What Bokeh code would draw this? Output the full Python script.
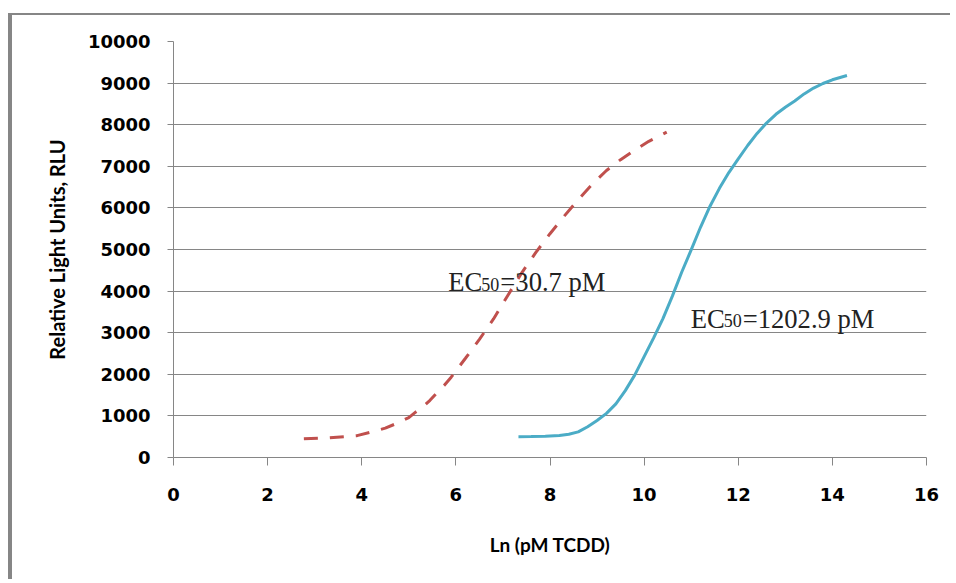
from bokeh.plotting import figure
from bokeh.models import Range1d, Label, FixedTicker
from bokeh.embed import file_html
from bokeh.resources import INLINE

# ---- data ----
x_ticks = [0, 2, 4, 6, 8, 10, 12, 14, 16]
y_ticks = [0, 1000, 2000, 3000, 4000, 5000, 6000, 7000, 8000, 9000, 10000]

# dashed red curve (lower EC50)
red_x = [2.77, 3.3, 3.9, 4.3, 4.5, 4.7, 4.85, 5.0, 5.15, 5.3, 5.45, 5.6, 5.75, 5.9,
         6.2, 6.5, 6.8, 7.1, 7.4, 7.7, 8.0, 8.3, 8.6, 8.9, 9.2, 9.5, 9.8, 10.1, 10.48]
red_y = [450, 470, 525, 640, 705, 800, 880, 960, 1095, 1220, 1375, 1560, 1730, 1930,
         2380, 2840, 3330, 3890, 4440, 4930, 5380, 5800, 6200, 6570, 6900, 7160, 7390,
         7600, 7820]

# solid cyan curve (higher EC50)
cyan_x = [7.33, 7.6, 7.9, 8.2, 8.4, 8.6, 8.8, 9.0, 9.2, 9.4, 9.6, 9.8, 10.0, 10.2,
          10.4, 10.6, 10.8, 11.0, 11.2, 11.4, 11.6, 11.8, 12.0, 12.2, 12.4, 12.6,
          12.8, 13.0, 13.2, 13.4, 13.6, 13.8, 14.0, 14.31]
cyan_y = [500, 503, 512, 530, 560, 615, 740, 890, 1060, 1290, 1607, 1980, 2424, 2870,
          3340, 3880, 4460, 4990, 5540, 6040, 6470, 6850, 7180, 7500, 7790, 8040,
          8250, 8420, 8570, 8740, 8880, 8990, 9080, 9183]

ec50_labels = ["30.7", "1202.9"]
ec50_pos_x = [5.84, 10.99]
ec50_pos_y = [4207, 3334]

GRID = "#868686"

p = figure(width=942, height=566, x_range=Range1d(0, 16), y_range=Range1d(0, 10000),
           output_backend="svg", toolbar_location=None,
           min_border_left=161, min_border_right=28, min_border_top=26, min_border_bottom=124)
p.styles = {"border-top": "2px solid #868686", "border-left": "4px solid #868686",
            "margin-top": "13px", "margin-left": "8px"}
p.outline_line_color = None
p.background_fill_color = "white"
p.border_fill_color = "white"

p.xgrid.grid_line_color = None
p.ygrid.grid_line_color = GRID
p.ygrid.grid_line_width = 1
p.ygrid.ticker = FixedTicker(ticks=y_ticks)

p.xaxis.ticker = FixedTicker(ticks=x_ticks)
p.yaxis.ticker = FixedTicker(ticks=y_ticks)
for ax in (p.xaxis[0], p.yaxis[0]):
    ax.axis_line_color = GRID
    ax.major_tick_line_color = GRID
    ax.minor_tick_line_color = None
    ax.major_tick_in = 0
    ax.major_label_text_font = "DejaVu Sans"
    ax.major_label_text_font_style = "bold"
    ax.major_label_text_font_size = "18px"
    ax.major_label_text_color = "black"
    ax.axis_label_text_font = "Lato"
    ax.axis_label_text_font_style = "bold"
    ax.axis_label_text_color = "black"
p.xaxis.axis_label_text_font_size = "19px"
p.yaxis.axis_label_text_font_size = "20px"
p.xaxis.major_tick_out = 8
p.yaxis.major_tick_out = 6
p.xaxis.major_label_standoff = 22
p.yaxis.major_label_standoff = 17
p.xaxis.axis_label = "Ln (pM TCDD)"
p.yaxis.axis_label = "Relative Light Units, RLU"
p.xaxis.axis_label_standoff = 29
p.yaxis.axis_label_standoff = 16

p.line(red_x, red_y, line_color="#C0504D", line_width=3, line_dash="14 12")
p.line(cyan_x, cyan_y, line_color="#4BACC6", line_width=3)

for lab, lx, ly in zip(ec50_labels, ec50_pos_x, ec50_pos_y):
    common = dict(x=lx, y=ly, text_font="Liberation Serif", text_color="#222222",
                  text_baseline="alphabetic", text_align="left")
    p.add_layout(Label(text="EC", text_font_size="26.6px", **common))
    p.add_layout(Label(text="50", text_font_size="18px", x_offset=33, y_offset=-2, **common))
    p.add_layout(Label(text="=" + lab + " pM", text_font_size="26.6px", x_offset=52, **common))

open("out.html", "w").write(file_html(p, INLINE))
